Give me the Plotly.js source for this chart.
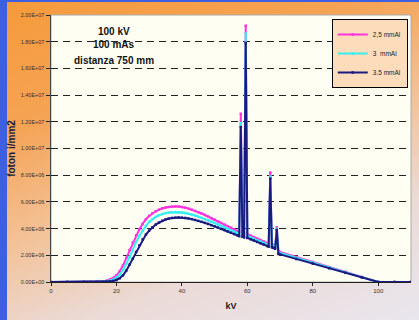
<!DOCTYPE html>
<html>
<head>
<meta charset="utf-8">
<script src="https://cdn.plot.ly/plotly-3.0.1.min.js"></script>
<style>
  html, body { margin: 0; padding: 0; width: 419px; height: 320px; overflow: hidden; }
  #wrap { position: absolute; left: 0; top: 0; width: 419px; height: 320px;
    background: linear-gradient(160deg, #f59a3a 0%, #f5a354 28%, #f3c196 52%, #ebdad6 74%, #e9e6ee 100%); }
  #blueL { position: absolute; left: 0; top: 0; width: 7px; height: 320px; background: #3f5fe3; }
  #blueT { position: absolute; left: 0; top: 0; width: 419px; height: 2px; background: #3f5fe3; }
  #chart { position: absolute; left: 0; top: 0; width: 419px; height: 320px; }
</style>
</head>
<body>
<div id="wrap"></div>
<div id="blueL"></div>
<div id="blueT"></div>
<div id="chart"></div>
<script>
// kV values (x axis)
const kV = [0, 5, 10, 14, 15, 16, 17, 18, 19, 20, 21, 22, 23, 24, 25, 26, 27, 28, 29, 30,
  31, 32, 33, 34, 35, 36, 37, 38, 39, 40, 41, 42, 43, 44, 45, 46, 47, 48, 49, 50,
  51, 52, 53, 54, 55, 56, 57, 57.5, 58, 58.5, 59, 59.5, 60, 61, 62, 63, 64, 65, 66, 66.5,
  67, 67.5, 68, 68.5, 69, 69.5, 70, 75, 80, 85, 90, 95, 100, 105, 110];

// photons/mm2, in units of 1e6
const al25 = [0, 0, 0, 0, 0.02, 0.05, 0.1, 0.18, 0.3, 0.5, 0.8, 1.25, 1.8, 2.4, 2.95, 3.5, 3.95, 4.35, 4.7, 4.95,
  5.15, 5.3, 5.42, 5.52, 5.58, 5.62, 5.65, 5.66, 5.65, 5.62, 5.57, 5.5, 5.42, 5.33, 5.23, 5.13, 5.02, 4.9, 4.78, 4.66,
  4.54, 4.42, 4.3, 4.18, 4.06, 3.94, 3.82, 3.76, 12.6, 3.7, 3.66, 19.2, 3.58, 3.47, 3.36, 3.25, 3.14, 3.03, 2.92, 2.87,
  8.2, 2.82, 2.77, 2.72, 4.1, 2.28, 2.25, 1.87, 1.5, 1.12, 0.75, 0.37, 0, 0, 0];
const al3 = [0, 0, 0, 0, 0.01, 0.03, 0.06, 0.1, 0.18, 0.32, 0.55, 0.9, 1.35, 1.85, 2.4, 3.0, 3.45, 3.85, 4.2, 4.5,
  4.72, 4.88, 5.0, 5.1, 5.16, 5.2, 5.22, 5.23, 5.22, 5.2, 5.16, 5.11, 5.05, 4.98, 4.9, 4.81, 4.72, 4.62, 4.52, 4.42,
  4.31, 4.2, 4.09, 3.98, 3.87, 3.76, 3.65, 3.6, 11.9, 3.54, 3.5, 18.6, 3.43, 3.33, 3.23, 3.13, 3.03, 2.93, 2.83, 2.78,
  7.9, 2.73, 2.68, 2.63, 4.0, 2.2, 2.17, 1.8, 1.44, 1.08, 0.72, 0.36, 0, 0, 0];
const al35 = [0, 0, 0, 0, 0, 0.01, 0.03, 0.05, 0.08, 0.15, 0.28, 0.5, 0.85, 1.3, 1.75, 2.25, 2.75, 3.2, 3.55, 3.85,
  4.1, 4.3, 4.45, 4.58, 4.68, 4.75, 4.8, 4.82, 4.83, 4.82, 4.8, 4.76, 4.71, 4.65, 4.58, 4.51, 4.43, 4.35, 4.26, 4.17,
  4.08, 3.98, 3.89, 3.79, 3.69, 3.59, 3.49, 3.44, 11.6, 3.39, 3.35, 17.9, 3.3, 3.2, 3.1, 3.0, 2.9, 2.8, 2.7, 2.65,
  7.75, 2.6, 2.55, 2.5, 3.9, 2.1, 2.07, 1.72, 1.38, 1.03, 0.69, 0.34, 0, 0, 0];

const seriesNames = ['2,5 mmAl', '3  mmAl', '3.5 mmAl'];
const seriesColors = ['#ff33dd', '#33f0f0', '#1a1a80'];
const seriesData = [al25, al3, al35];

const yTickVals = [0, 2e6, 4e6, 6e6, 8e6, 1e7, 1.2e7, 1.4e7, 1.6e7, 1.8e7, 2e7];
const yTickText = ['0.00E+00', '2.00E+06', '4.00E+06', '6.00E+06', '8.00E+06', '1.00E+07',
  '1.20E+07', '1.40E+07', '1.60E+07', '1.80E+07', '2.00E+07'];
const xTickVals = [0, 20, 40, 60, 80, 100];

const traces = seriesData.map((d, i) => ({
  type: 'scatter', mode: 'lines+markers',
  x: kV, y: d.map(v => v * 1e6),
  name: seriesNames[i], legendgroup: 'g' + i,
  line: {color: seriesColors[i], width: 2},
  marker: {color: seriesColors[i], size: 2.5, symbol: 'square'}
}));

const layout = {
  width: 419, height: 320,
  margin: {l: 51, r: 8, t: 15, b: 38, pad: 0},
  paper_bgcolor: 'rgba(0,0,0,0)',
  plot_bgcolor: '#fffef2',
  font: {family: 'Liberation Sans, Arial, sans-serif', color: '#222'},
  showlegend: true,
  legend: {
    x: 0.78, y: 0.985, xanchor: 'left', yanchor: 'top',
    bgcolor: '#fddcbc', bordercolor: '#000', borderwidth: 1,
    font: {size: 6.5, color: '#222'}, tracegroupgap: 25, itemwidth: 30,
    traceorder: 'normal'
  },
  xaxis: {
    range: [0, 110], tickvals: xTickVals, ticktext: xTickVals.map(String),
    showgrid: false, zeroline: false,
    showline: true, linecolor: '#222', linewidth: 1,
    ticks: 'outside', ticklen: 3, tickcolor: '#222', tickwidth: 1,
    tickfont: {size: 6, color: '#333'},
    title: {text: '<b>kV</b>', font: {size: 9, color: '#222'}, standoff: 9}
  },
  yaxis: {
    range: [0, 2e7], tickvals: yTickVals, ticktext: yTickText,
    showgrid: true, gridcolor: '#222', gridwidth: 1, griddash: '7px,5px',
    zeroline: false,
    showline: true, linecolor: '#444', linewidth: 1.5,
    ticks: 'outside', ticklen: 4, tickcolor: '#222', tickwidth: 1,
    tickfont: {size: 5.5, color: '#333'},
    title: {text: '<b>foton i/mm2</b>', font: {size: 10, color: '#1a1a40'}, standoff: 3}
  },
  shapes: [{
    type: 'rect', xref: 'paper', yref: 'paper', x0: 0, x1: 1, y0: 0, y1: 1,
    line: {color: '#aaaaaa', width: 1}, layer: 'below'
  }],
  annotations: [
    {text: '<b>100 kV</b>', xref: 'paper', yref: 'paper', x: 0.175, y: 0.9375, xanchor: 'center', yanchor: 'middle', showarrow: false, font: {size: 10, color: '#111'}},
    {text: '<b>100 mAs</b>', xref: 'paper', yref: 'paper', x: 0.175, y: 0.888, xanchor: 'center', yanchor: 'middle', showarrow: false, font: {size: 10, color: '#111'}},
    {text: '<b>distanza 750 mm</b>', xref: 'paper', yref: 'paper', x: 0.175, y: 0.828, xanchor: 'center', yanchor: 'middle', showarrow: false, font: {size: 10, color: '#111'}}
  ]
};

Plotly.newPlot('chart', traces, layout, {displayModeBar: false, staticPlot: true});
</script>
</body>
</html>
